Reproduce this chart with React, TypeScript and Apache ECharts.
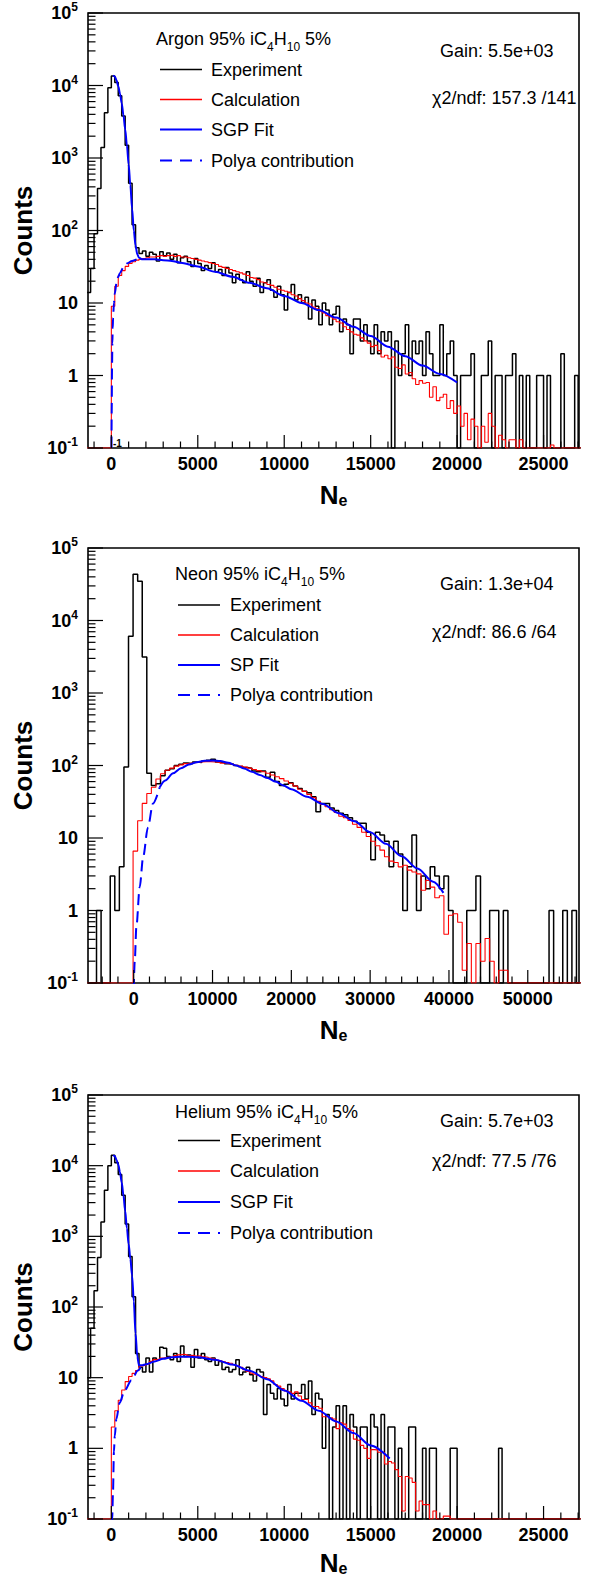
import React, { useEffect, useRef } from "react";
import * as echarts from "echarts";

const SANS = '"Liberation Sans", Arial, Helvetica, sans-serif';

// ---------------- Panel 1 : Argon 95% iC4H10 5% ----------------
const argonStart = -1400;
const argonBinWidth = 200;
const argonExp = [
  14, 30, 90, 380, 1400, 4200, 9300, 13500, 11000, 7200,
  3800, 1500, 450, 120, 58, 48, 52, 44, 50, 47,
  38, 51, 45, 49, 40, 47, 36, 42, 44, 37,
  32, 41, 35, 28, 33, 30, 36, 27, 29, 24,
  31, 26, 19, 25, 21, 19, 27, 20, 17, 22,
  14, 19, 21, 15, 12, 17, 13, 8, 14, 18,
  11, 13, 10, 12, 6, 11, 9, 5, 10, 8,
  5, 7, 9, 4, 6, 5, 2, 6, 6, 3,
  5, 3, 2, 5, 2, 4, 3, 4, 0, 3,
  1, 2, 5, 1, 3, 2, 3, 1, 4, 2,
  1, 1, 5, 1, 2, 3, 1, 0, 1, 1,
  1, 2, 0, 0, 1, 1, 3, 0, 1, 1,
  0, 1, 1, 2, 0, 1, 0, 1, 0, 0,
  1, 1, 0, 1, 0, 0, 0, 2, 0, 0,
  0, 1, 0,
];
const argonCalc = [
  0, 0, 0, 0, 0, 0, 0, 9, 17, 24,
  28, 32, 35, 37, 39, 40, 41, 42, 43, 43,
  44, 45, 44, 45, 46, 44, 45, 43, 43, 42,
  41, 40, 39, 38, 37, 36, 35, 34, 32, 31,
  30, 29, 28, 27, 26, 25, 24, 22.5, 22, 21,
  19.5, 19, 18, 17.5, 16.5, 15.5, 15, 14.5, 14, 13,
  12.5, 11.5, 10.8, 10, 9.7, 8.8, 8.3, 7.7, 7.3, 6.7,
  6.4, 6, 5.5, 5.3, 4.7, 4.3, 4, 3.7, 3.6, 3.3,
  3, 2.8, 2.5, 2.6, 2.2, 1.8, 1.9, 1.7, 1.8, 1.3,
  1.25, 1.4, 1.05, 1.1, 0.9, 0.75, 0.85, 0.78, 0.8, 0.5,
  0.7, 0.45, 0.5, 0.55, 0.35, 0.45, 0.3, 0.38, 0.2, 0.3,
  0.13, 0.25, 0.2, 0, 0.2, 0.12, 0.3, 0.2, 0, 0.15,
  0.13, 0, 0.13, 0.13, 0, 0.13, 0, 0, 0, 0,
  0, 0, 0, 0, 0.11, 0, 0, 0, 0, 0,
  0, 0, 0,
];
const argonFitN = [100, 200, 300, 400, 500, 600, 700, 800, 900, 1000, 1100, 1200, 1300, 1400, 1500, 1600, 1800, 2000, 2500, 3000, 3500, 4000, 5000, 6000, 7000, 8000, 9000, 10000, 11000, 12000, 13000, 14000, 15000, 16000, 17000, 18000, 19000, 20000];
const argonFitY = [13800, 13300, 11800, 9800, 7700, 5700, 3900, 2500, 1500, 820, 420, 200, 100, 62, 47, 42, 40, 40, 40, 39, 38, 36, 32, 27, 23, 19, 16, 12.5, 10, 8, 6.3, 4.7, 3.5, 2.5, 1.85, 1.37, 1.05, 0.8];
const argonPolyaN = [0, 20, 40, 60, 80, 100, 150, 200, 300, 400, 500, 700, 900, 1200, 1500, 1800];
const argonPolyaY = [0.02, 0.3, 1.3, 2.8, 4.5, 6.2, 10, 13.5, 19, 23, 26, 31, 35, 38, 40, 40];

// ---------------- Panel 2 : Neon 95% iC4H10 5% ----------------
const neonStart = -5880;
const neonBinWidth = 580;
const neonExp = [
  0, 0, 1, 0, 0, 3, 1, 4, 95, 6050,
  43400, 34700, 3140, 78, 53, 56, 72, 86, 90, 100,
  104, 108, 106, 112, 110, 115, 118, 122, 112, 110,
  106, 104, 100, 97, 94, 92, 84, 82, 84, 69,
  81, 60, 53, 55, 58, 52, 48, 44, 42, 37,
  23, 30, 30, 26, 24, 22, 21, 19, 17, 16,
  16, 12, 5, 12, 11, 9, 4, 9, 6, 1,
  4, 11, 1, 3, 2, 4, 3, 2, 3, 1,
  0, 0, 0, 1, 1, 3, 0, 0, 1, 1,
  0, 1, 0, 0, 0, 0, 0, 0, 0, 0,
  0, 1, 0, 0, 1, 0, 1, 0,
];
const neonCalc = [
  0, 0, 0, 0, 0, 0, 0, 0, 0, 0,
  6.6, 17.3, 30, 41, 50, 65, 77, 86, 92, 98,
  102, 106, 108, 110, 112, 113, 113, 112, 111, 108,
  106, 104, 101, 98, 95, 92, 88, 85, 82, 78,
  74, 70, 66, 61, 57, 52, 47, 44, 40, 36,
  32, 29, 27, 24.5, 22.5, 20, 19, 17.5, 15.5, 14,
  12, 10.5, 9, 7.8, 6.8, 5.5, 4.8, 4.6, 4, 4.2,
  3.6, 3.4, 3.2, 1.9, 2.6, 2.1, 1.5, 1.6, 0.47, 0.86,
  0.9, 0.69, 0.15, 0.35, 0, 0.35, 0.2, 0.41, 0.2, 0,
  0.15, 0.15, 0, 0, 0, 0, 0, 0, 0, 0,
  0, 0, 0, 0, 0, 0, 0, 0,
];
const neonFitN = [3300, 4000, 5000, 6000, 7000, 8000, 9000, 10000, 11000, 12000, 13000, 14000, 15000, 16000, 17000, 18000, 19000, 20000, 22000, 24000, 26000, 28000, 30000, 32000, 34000, 36000, 38000, 39300];
const neonFitY = [50, 62, 78, 92, 103, 111, 116, 117, 115, 109, 100, 91, 82, 74, 67, 60, 53, 47, 37, 29.5, 22, 17, 12, 8.3, 5.6, 3.8, 2.5, 1.75];
const neonPolyaN = [0, 130, 340, 760, 1200, 1800, 2450, 3300];
const neonPolyaY = [0.08, 0.2, 0.6, 2.1, 5.5, 14, 30, 50];

// ---------------- Panel 3 : Helium 95% iC4H10 5% ----------------
const heliumStart = -1400;
const heliumBinWidth = 200;
const heliumExp = [
  10, 50, 170, 500, 1600, 4500, 10000, 14000, 11000, 7500,
  3800, 1500, 520, 140, 22, 14, 12, 19, 12, 19,
  18, 27, 26, 20, 18, 22, 17, 28, 20, 21,
  14, 25, 19, 22, 18, 17, 19, 15, 17, 13,
  14, 12, 13, 18, 11, 12, 14, 11, 9, 13,
  12, 3, 8, 6, 5, 7, 5, 4, 8, 5,
  6, 6, 8, 5, 9, 3, 6, 5, 1, 3,
  0, 2, 4, 0, 4, 0, 3, 2, 0, 2,
  2, 0, 3, 2, 0, 3, 0, 2, 2, 0,
  1, 0, 0, 2, 2, 0, 0, 1, 0, 1,
  1, 0, 0, 0, 0, 1, 1, 0, 0, 0,
  0, 0, 0, 0, 0, 0, 0, 0, 0, 1,
  0, 0, 0, 0, 0, 0, 0, 0, 0, 0,
  0, 0, 0, 0, 0, 0, 0, 0, 0, 0,
  0, 0, 0,
];
const heliumCalc = [
  0, 0, 0, 0, 0, 0, 0, 2, 3.4, 4.8,
  6.7, 8.8, 10.4, 11.5, 12.6, 14.7, 15, 15.5, 17, 18,
  18.3, 19, 19.3, 19.5, 19.3, 20.5, 21, 21.4, 21, 20.5,
  20.8, 20.2, 20.4, 19.8, 19.5, 19, 18.5, 17.8, 17.3, 16.8,
  16.4, 16, 15.2, 14.7, 14, 13, 12.2, 11.6, 11.2, 10.8,
  10.4, 10, 9.6, 9, 8, 7.6, 7, 6.5, 6.3, 6,
  6.3, 5.5, 4.9, 4.9, 4.4, 3.9, 3.9, 3.7, 2.8, 2.8,
  2.7, 2.6, 1.9, 2.3, 2.2, 1.9, 1.8, 1.35, 1.3, 1.1,
  1, 0.72, 0.96, 0.95, 0.88, 0.88, 0.6, 0.65, 0.62, 0.5,
  0.4, 0.13, 0.4, 0.38, 0.33, 0.13, 0.18, 0.16, 0.16, 0,
  0.13, 0, 0, 0.11, 0.11, 0, 0, 0, 0, 0,
  0, 0, 0, 0, 0, 0, 0, 0, 0, 0,
  0, 0, 0, 0, 0, 0, 0, 0, 0, 0,
  0, 0, 0, 0, 0, 0, 0, 0, 0, 0,
  0, 0, 0,
];
const heliumFitN = [100, 200, 300, 400, 500, 600, 700, 800, 900, 1000, 1100, 1200, 1300, 1400, 1500, 1600, 1800, 2000, 2500, 3000, 3500, 4000, 4500, 5000, 6000, 7000, 8000, 9000, 10000, 11000, 12000, 13000, 14000, 15000, 16100];
const heliumFitY = [14000, 13700, 12000, 10400, 8100, 5800, 3800, 2300, 1300, 780, 480, 280, 120, 42, 20, 15, 15, 15.5, 17, 18.5, 19.5, 19.8, 19.8, 19.5, 18, 15.3, 12.5, 9.5, 6.6, 4.7, 3.4, 2.4, 1.65, 1.1, 0.72];
const heliumPolyaN = [0, 50, 93, 150, 200, 290, 480, 770, 1160, 1540, 1700];
const heliumPolyaY = [0.05, 0.1, 0.23, 0.9, 1.5, 2.6, 4.4, 6.6, 9.2, 12.6, 14];

// ---------------- Texts ----------------
const gasLabels = ["Argon", "Neon", "Helium"];
const fitLabels = ["SGP Fit", "SP Fit", "SGP Fit"];
const gainLabels = ["Gain: 5.5e+03", "Gain: 1.3e+04", "Gain: 5.7e+03"];
const chiLabels = ["χ2/ndf: 157.3 /141", "χ2/ndf: 86.6 /64", "χ2/ndf: 77.5 /76"];
const xRanges = [[-1350, 27050], [-5800, 56500], [-1350, 27050]];
const xTickSteps = [[5000, 1000], [10000, 2000], [5000, 1000]];

// ---------------- Layout ----------------
const PLOT_LEFT = 88;
const PLOT_W = 491;
const panelTops = [13, 548, 1095];
const panelHeights = [435, 435, 424];
const xNameGaps = [34, 34, 31];
const legendLayouts = [
  { titleX: 156, lineX1: 160, lineX2: 202, textX: 211, titleY: 38.5, entryY: [69.5, 99.5, 129.5, 160.5], gainY: 50.5, chiY: 97.5 },
  { titleX: 175, lineX1: 178, lineX2: 220, textX: 230, titleY: 573.5, entryY: [605, 635, 665, 695], gainY: 584, chiY: 632 },
  { titleX: 175, lineX1: 178, lineX2: 220, textX: 230, titleY: 1112, entryY: [1140.5, 1171, 1202, 1233], gainY: 1121, chiY: 1161 },
];

const FLOOR = 0.1;

function histPoints(start: number, width: number, counts: number[]) {
  const pts: number[][] = counts.map((c, i) => [start + i * width, Math.max(c, FLOOR)]);
  pts.push([start + counts.length * width, Math.max(counts[counts.length - 1], FLOOR)]);
  return pts;
}
function curvePoints(xs: number[], ys: number[]) {
  return xs.map((x, i) => [x, ys[i]]);
}

function tickData(xMin: number, xMax: number, major: number, minor: number) {
  const out: number[][] = [];
  const first = Math.ceil(xMin / minor) * minor;
  for (let v = first; v <= xMax; v += minor) {
    const isMajor = Math.abs(v % major) < 1e-6;
    out.push([v, 1, 0, isMajor ? 13 : 6.5]);
  }
  for (let e = -1; e <= 4; e++) {
    for (let m = 1; m <= 9; m++) {
      out.push([xMin, m * Math.pow(10, e), 1, m === 1 ? 15 : 7.5]);
    }
  }
  out.push([xMin, 1e5, 1, 15]);
  return out;
}

function buildOption() {
  const data = [
    { start: argonStart, w: argonBinWidth, exp: argonExp, calc: argonCalc, fN: argonFitN, fY: argonFitY, pN: argonPolyaN, pY: argonPolyaY },
    { start: neonStart, w: neonBinWidth, exp: neonExp, calc: neonCalc, fN: neonFitN, fY: neonFitY, pN: neonPolyaN, pY: neonPolyaY },
    { start: heliumStart, w: heliumBinWidth, exp: heliumExp, calc: heliumCalc, fN: heliumFitN, fY: heliumFitY, pN: heliumPolyaN, pY: heliumPolyaY },
  ];

  const grids: any[] = [];
  const xAxes: any[] = [];
  const yAxes: any[] = [];
  const series: any[] = [];
  const graphics: any[] = [];

  data.forEach((d, i) => {
    const top = panelTops[i];
    const [xMin, xMax] = xRanges[i];
    grids.push({
      left: PLOT_LEFT, top, width: PLOT_W, height: panelHeights[i],
      show: true, borderColor: "#000", borderWidth: 1.6, backgroundColor: "transparent",
      containLabel: false, outerBoundsMode: "none",
    });
    xAxes.push({
      type: "value", gridIndex: i, min: xMin, max: xMax,
      axisLine: { show: false }, axisTick: { show: false }, splitLine: { show: false },
      axisLabel: {
        show: true, margin: 7, showMinLabel: false, showMaxLabel: false,
        formatter: (v: number) => String(Math.round(v)),
        fontSize: 18, fontWeight: "bold", fontFamily: SANS, color: "#000",
      },
      name: "{n|N}{e|e}", nameLocation: "middle", nameGap: xNameGaps[i],
      nameTextStyle: {
        rich: {
          n: { fontSize: 26, fontWeight: "bold", fontFamily: SANS, color: "#000", lineHeight: 26 },
          e: { fontSize: 16, fontWeight: "bold", fontFamily: SANS, color: "#000", lineHeight: 12, verticalAlign: "bottom" },
        },
      },
    });
    yAxes.push({
      type: "log", logBase: 10, gridIndex: i, min: 0.1, max: 100000,
      axisLine: { show: false }, axisTick: { show: false }, splitLine: { show: false }, minorTick: { show: false },
      axisLabel: {
        show: true, margin: 10, showMinLabel: true, showMaxLabel: true,
        formatter: (v: number) => {
          const e = Math.round(Math.log10(v));
          if (e === 0) return "{b|1}";
          if (e === 1) return "{b|10}";
          return "{b|10}{s|" + e + "}";
        },
        rich: {
          b: { fontSize: 18, fontWeight: "bold", fontFamily: SANS, color: "#000", lineHeight: 24 },
          s: { fontSize: 12, fontWeight: "bold", fontFamily: SANS, color: "#000", lineHeight: 12, verticalAlign: "top" },
        },
      },
      name: "Counts", nameLocation: "middle", nameGap: 44, nameRotate: 90,
      nameTextStyle: { fontSize: 26, fontWeight: "bold", fontFamily: SANS, color: "#000" },
    });

    const common = { xAxisIndex: i, yAxisIndex: i, symbol: "none", showSymbol: false, silent: true, animation: false };
    series.push({
      ...common, type: "line", name: "Experiment", step: "end",
      data: histPoints(d.start, d.w, d.exp),
      lineStyle: { color: "#000000", width: 1.5 }, z: 2,
    });
    series.push({
      ...common, type: "line", name: "Calculation", step: "end",
      data: histPoints(d.start, d.w, d.calc),
      lineStyle: { color: "#ff0000", width: 1.1 }, z: 3,
    });
    series.push({
      ...common, type: "line", name: "Polya contribution", smooth: 0.3, smoothMonotone: "x",
      data: curvePoints(d.pN, d.pY),
      lineStyle: { color: "#0000ff", width: 2, type: [11, 6] }, z: 4,
    });
    series.push({
      ...common, type: "line", name: fitLabels[i], smooth: 0.3, smoothMonotone: "x",
      data: curvePoints(d.fN, d.fY),
      lineStyle: { color: "#0000ff", width: 2 }, z: 5,
    });
    series.push({
      type: "custom", xAxisIndex: i, yAxisIndex: i, silent: true, clip: false, z: 6,
      data: tickData(xMin, xMax, xTickSteps[i][0], xTickSteps[i][1]),
      encode: { x: 0, y: 1 },
      renderItem: (params: any, api: any) => {
        const cs = params.coordSys;
        const kind = api.value(2);
        const len = api.value(3);
        if (kind === 0) {
          const p = api.coord([api.value(0), 1]);
          const yb = cs.y + cs.height;
          return { type: "line", shape: { x1: p[0], y1: yb, x2: p[0], y2: yb - len }, style: { stroke: "#000", lineWidth: 1.2 } };
        }
        const p = api.coord([xMin, api.value(1)]);
        return { type: "line", shape: { x1: cs.x, y1: p[1], x2: cs.x + len, y2: p[1] }, style: { stroke: "#000", lineWidth: 1.2 } };
      },
    });

    // Legend block
    const L = legendLayouts[i];
    const txt = { fontSize: 18, fontFamily: SANS, fill: "#000" };
    graphics.push({
      type: "text", x: L.titleX, y: L.titleY,
      style: {
        text: "{t|" + gasLabels[i] + " 95% iC}{s|4}{t|H}{s|10}{t| 5%}",
        align: "left", verticalAlign: "middle",
        rich: {
          t: { fontSize: 18, fontFamily: SANS, fill: "#000", lineHeight: 28 },
          s: { fontSize: 12, fontFamily: SANS, fill: "#000", lineHeight: 12, verticalAlign: "bottom" },
        },
      },
    });
    const entries = [
      { label: "Experiment", color: "#000000", dash: null as any, w: 1.3 },
      { label: "Calculation", color: "#ff0000", dash: null as any, w: 1.3 },
      { label: fitLabels[i], color: "#0000ff", dash: null as any, w: 2 },
      { label: "Polya contribution", color: "#0000ff", dash: [12, 8], w: 2 },
    ];
    entries.forEach((en, k) => {
      const y = L.entryY[k];
      graphics.push({
        type: "line", shape: { x1: L.lineX1, y1: y, x2: L.lineX2, y2: y },
        style: { stroke: en.color, lineWidth: en.w, lineDash: en.dash || undefined },
      });
      graphics.push({
        type: "text", x: L.textX, y,
        style: { ...txt, text: en.label, align: "left", verticalAlign: "middle" },
      });
    });
    graphics.push({
      type: "text", x: 440, y: L.gainY,
      style: { ...txt, text: gainLabels[i], align: "left", verticalAlign: "middle" },
    });
    graphics.push({
      type: "text", x: 432, y: L.chiY,
      style: { ...txt, text: chiLabels[i], align: "left", verticalAlign: "middle" },
    });
  });

  graphics.push({
    type: "text", x: 113, y: panelTops[0] + panelHeights[0] - 5,
    style: { text: "-1", fontSize: 10, fontWeight: "bold", fontFamily: SANS, fill: "#000", align: "left", verticalAlign: "middle" },
  });

  return {
    animation: false,
    backgroundColor: "#ffffff",
    grid: grids,
    xAxis: xAxes,
    yAxis: yAxes,
    series,
    graphic: graphics,
  };
}

export default function App() {
  const ref = useRef<HTMLDivElement>(null);
  useEffect(() => {
    document.body.style.margin = "0";
    const chart = echarts.init(ref.current as HTMLDivElement, undefined, { renderer: "svg" });
    chart.setOption(buildOption() as any);
    return () => chart.dispose();
  }, []);
  return <div ref={ref} style={{ width: 595, height: 1580 }} />;
}
